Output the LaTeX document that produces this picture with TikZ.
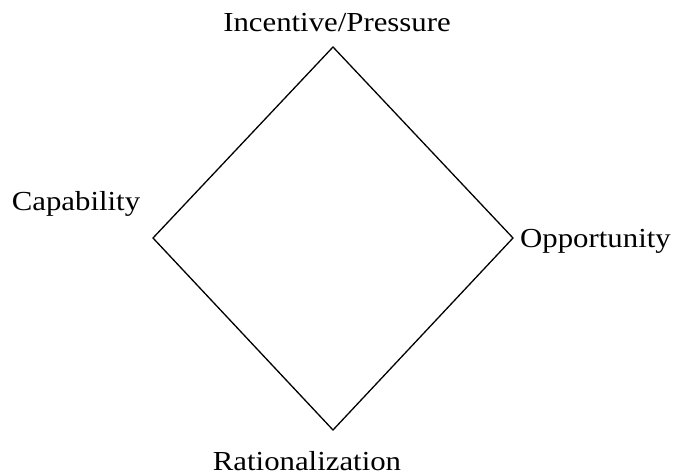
\documentclass[tikz,border=0pt]{standalone}
\usepackage{fontspec}
\setmainfont{Liberation Serif}[FakeStretch=1.12]
\begin{document}
\begin{tikzpicture}[x=1pt,y=1pt,
  lbl/.style={inner sep=0pt,font=\fontsize{27.5}{33}\selectfont},
  edge/.style={line width=1.3pt,line join=miter}]
\useasboundingbox (0,0) rectangle (676,475);
\coordinate (top) at (333,428);
\coordinate (left) at (153,237);
\coordinate (right) at (513,237);
\coordinate (bottom) at (333,45);
\node[lbl,anchor=base] (inc) at (337,443) {Incentive/Pressure};
\node[lbl,anchor=base] (cap) at (76,265) {Capability};
\node[lbl,anchor=base west] (opp) at (520,228) {Opportunity};
\node[lbl,anchor=base] (rat) at (307,5) {Rationalization};
\draw[edge] (top) -- (right) -- (bottom) -- (left) -- cycle;
\end{tikzpicture}
\end{document}
